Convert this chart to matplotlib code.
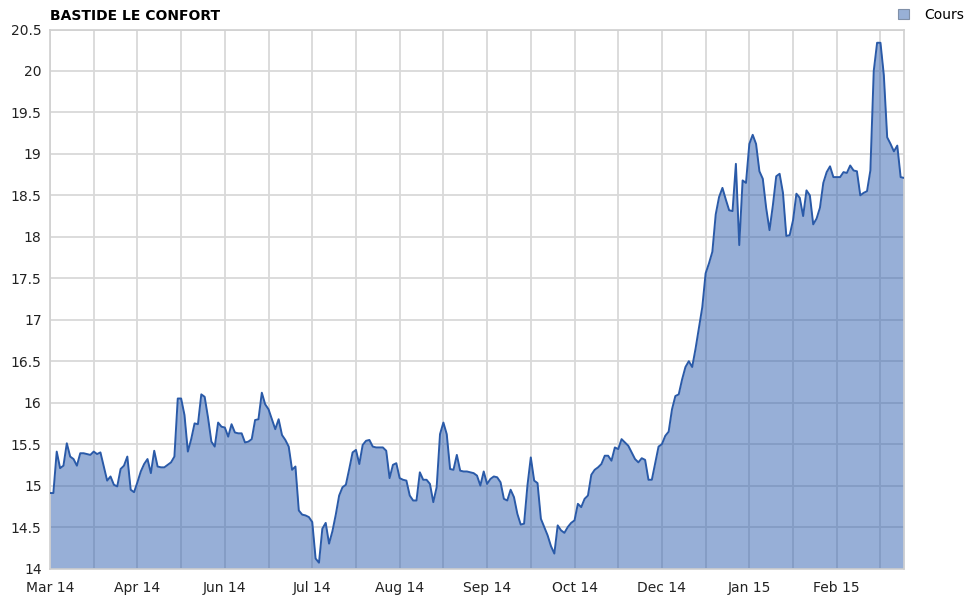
import matplotlib
matplotlib.use("Agg")
import matplotlib.pyplot as plt
import numpy as np
from matplotlib.patches import Patch

# Daily closing price, one value per trading day
prices = [
    14.91, 14.91, 15.41, 15.21, 15.24, 15.51, 15.35, 15.32, 15.24, 15.39,
    15.39, 15.38, 15.37, 15.41, 15.38, 15.40, 15.23, 15.06, 15.11, 15.01,
    14.99, 15.20, 15.24, 15.35, 14.95, 14.92, 15.04, 15.17, 15.26, 15.32,
    15.15, 15.42, 15.23, 15.22, 15.22, 15.25, 15.28, 15.35, 16.05, 16.05,
    15.85, 15.41, 15.56, 15.75, 15.74, 16.10, 16.07, 15.82, 15.53, 15.47,
    15.76, 15.71, 15.70, 15.59, 15.74, 15.64, 15.63, 15.63, 15.52, 15.53,
    15.56, 15.79, 15.80, 16.12, 15.98, 15.92, 15.80, 15.68, 15.80, 15.61,
    15.55, 15.47, 15.19, 15.23, 14.70, 14.65, 14.64, 14.62, 14.56, 14.12,
    14.07, 14.48, 14.55, 14.30, 14.45, 14.65, 14.88, 14.98, 15.01, 15.20,
    15.40, 15.43, 15.26, 15.49, 15.54, 15.55, 15.47, 15.46, 15.46, 15.46,
    15.42, 15.09, 15.25, 15.27, 15.09, 15.07, 15.06, 14.88, 14.82, 14.82,
    15.16, 15.07, 15.07, 15.02, 14.80, 14.98, 15.62, 15.76, 15.62, 15.20,
    15.19, 15.37, 15.18, 15.17, 15.17, 15.16, 15.15, 15.12, 15.00, 15.17,
    15.02, 15.08, 15.11, 15.10, 15.04, 14.84, 14.82, 14.95, 14.86, 14.66,
    14.53, 14.54, 15.00, 15.34, 15.06, 15.03, 14.60, 14.50, 14.40, 14.27,
    14.18, 14.52, 14.46, 14.43, 14.50, 14.55, 14.58, 14.78, 14.74, 14.84,
    14.88, 15.13, 15.19, 15.22, 15.26, 15.36, 15.36, 15.30, 15.46, 15.44,
    15.56, 15.52, 15.48, 15.40, 15.32, 15.28, 15.33, 15.31, 15.07, 15.07,
    15.27, 15.47, 15.50, 15.60, 15.65, 15.92, 16.08, 16.10, 16.28, 16.43,
    16.50, 16.43, 16.65, 16.90, 17.15, 17.56, 17.68, 17.82, 18.27, 18.48,
    18.59, 18.45, 18.32, 18.31, 18.88, 17.90, 18.68, 18.65, 19.12, 19.23,
    19.12, 18.79, 18.70, 18.35, 18.08, 18.38, 18.73, 18.76, 18.53, 18.01,
    18.02, 18.20, 18.52, 18.47, 18.25, 18.56, 18.50, 18.15, 18.22, 18.35,
    18.65, 18.78, 18.85, 18.72, 18.72, 18.72, 18.78, 18.77, 18.86, 18.80,
    18.79, 18.50, 18.53, 18.55, 18.80, 20.00, 20.34, 20.34, 19.95, 19.20,
    19.12, 19.03, 19.10, 18.72, 18.71,
]
month_labels = ["Mar 14", "Apr 14", "Jun 14", "Jul 14", "Aug 14",
                "Sep 14", "Oct 14", "Dec 14", "Jan 15", "Feb 15"]
grid_step = 13  # trading days between vertical gridlines; labels on every other one

LINE = "#2a5aa8"
FILL = "#3060b0"
GRID = "#d9d9d9"

days = np.arange(len(prices))

fig = plt.figure(figsize=(9.64, 5.98), dpi=100)
ax = fig.add_axes([50 / 964, 1 - 568.5 / 598, 854 / 964, 539 / 598])

ax.fill_between(days, 14, prices, color=FILL, alpha=0.5, linewidth=0, zorder=2)
ax.plot(days, prices, color=LINE, linewidth=1.4, zorder=3)

ax.set_xlim(0, len(prices) - 1)
ax.set_ylim(14, 20.5)

xt = np.arange(0, len(prices), grid_step)
xl = []
for k in range(len(xt)):
    xl.append(month_labels[k // 2] if k % 2 == 0 and k // 2 < len(month_labels) else "")
ax.set_xticks(xt)
ax.set_xticklabels(xl)
yt = np.arange(14, 20.51, 0.5)
ax.set_yticks(yt)
ax.set_yticklabels([f"{v:g}" for v in yt])

ax.tick_params(length=0, labelsize=10, colors="#222222")
ax.tick_params(axis="x", pad=9)
ax.tick_params(axis="y", pad=6)
ax.grid(True, color=GRID, linewidth=1.3, zorder=1)
ax.set_axisbelow(True)
for s in ax.spines.values():
    s.set_color("#d0d0d0")
    s.set_linewidth(1.2)

fig.text(50 / 964, 1 - 16 / 598, "BASTIDE LE CONFORT", fontsize=10,
         fontweight="bold", va="center", ha="left")

handle = Patch(facecolor="#98b0d6", edgecolor="#8090a8", linewidth=0.8)
fig.legend([handle], ["Cours"], loc="center right", bbox_to_anchor=(1.006, 1 - 15 / 598),
           frameon=False, fontsize=10, handlelength=0.8, handleheight=0.8,
           handletextpad=1.1, borderaxespad=0.0)

fig.savefig("out.png", dpi=100)
